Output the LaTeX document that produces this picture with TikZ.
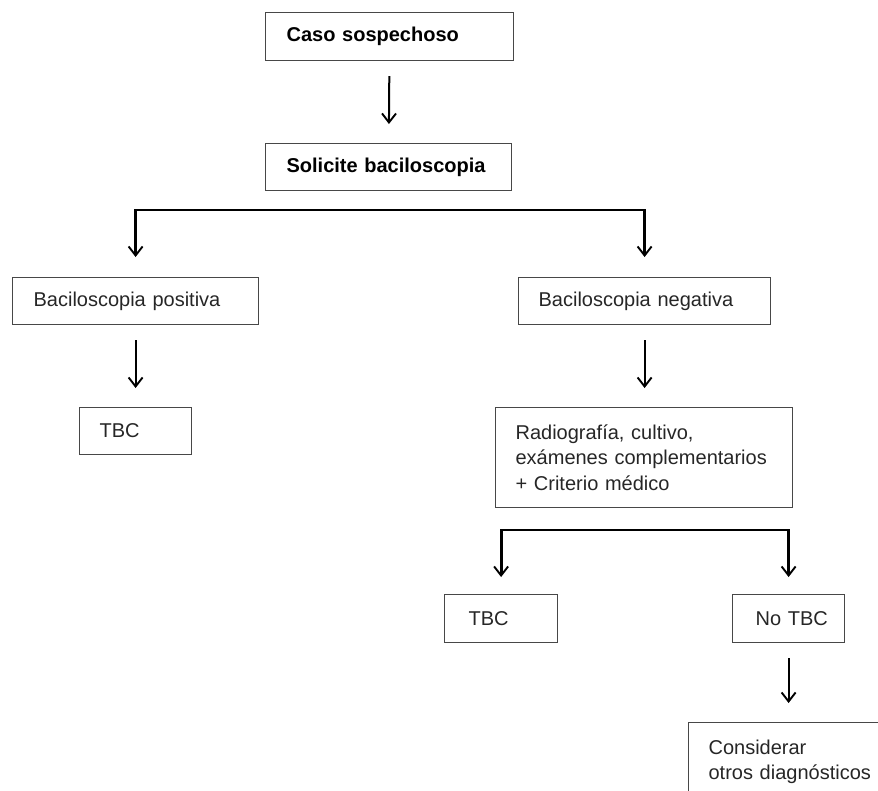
\documentclass[tikz,border=0pt]{standalone}
\usepackage{fontspec}
\setmainfont{Liberation Sans}
\usetikzlibrary{arrows.meta}
\begin{document}
\begin{tikzpicture}[x=1pt,y=1pt,
  >={Straight Barb[length=9pt,width=14pt,line width=1.9pt]},
  box/.style={draw=black!72, line width=1.2pt, anchor=north west, align=left,
    text=black!85, font=\fontsize{20}{25.5}\selectfont, inner ysep=0pt},
  boldbox/.style={box, text=black, font=\fontsize{20}{25.5}\selectfont\bfseries},
  arr/.style={line width=2pt, ->, shorten <=15pt, shorten >=19pt},
  barl/.style={line width=2.8pt, line join=miter, <->}
]
\useasboundingbox (0,0) rectangle (878,-790);
\clip (0,0) rectangle (878,-790);

\node[boldbox, minimum width=248pt, minimum height=48pt, text width=206pt, inner xsep=21pt]
  (caso) at (265,-12) {Caso sospechoso};
\node[boldbox, minimum width=246pt, minimum height=47pt, text width=204pt, inner xsep=21pt]
  (sol) at (265,-143) {Solicite baciloscopia};
\node[box, minimum width=246pt, minimum height=47pt, text width=204pt, inner xsep=21pt]
  (pos) at (12,-277) {Baciloscopia positiva};
\node[box, minimum width=252pt, minimum height=47pt, text width=212pt, inner xsep=20pt]
  (neg) at (518,-277) {Baciloscopia negativa};
\node[box, minimum width=112pt, minimum height=47pt, text width=72pt, inner xsep=20pt]
  (tbca) at (79,-407) {TBC};
\node[box, minimum width=297pt, minimum height=100pt, text width=257pt, inner xsep=20pt]
  (radio) at (495,-407) {Radiografía, cultivo,\\exámenes complementarios\\+ Criterio médico};
\node[box, minimum width=113pt, minimum height=48pt, text width=65pt, inner xsep=24pt]
  (tbcb) at (444,-594) {TBC};
\node[box, minimum width=112pt, minimum height=48pt, text width=80pt, inner xsep=16pt]
  (notbc) at (732,-594) {\hspace*{7pt}No~TBC};
\node[box, minimum width=230pt, text width=190pt, inner xsep=20pt, inner ysep=17pt, text depth=25pt]
  (consid) at (688,-722) {Considerar\\otros diagnósticos};

\coordinate (ja) at (390,-210);
\coordinate (jb) at (640,-530);

\draw[arr] (caso) -- (sol);
\draw[arr] (pos) -- (tbca);
\draw[arr] (neg.south) -- (neg.south |- radio.north);
\draw[arr] (notbc.south) -- (notbc.south |- consid.north);

\draw[barl, shorten <=20pt, shorten >=20pt] (pos.north) |- (ja) -| (neg.north);
\draw[barl, shorten <=17pt, shorten >=17pt] (tbcb.north) |- (jb) -| (notbc.north);
\end{tikzpicture}
\end{document}
